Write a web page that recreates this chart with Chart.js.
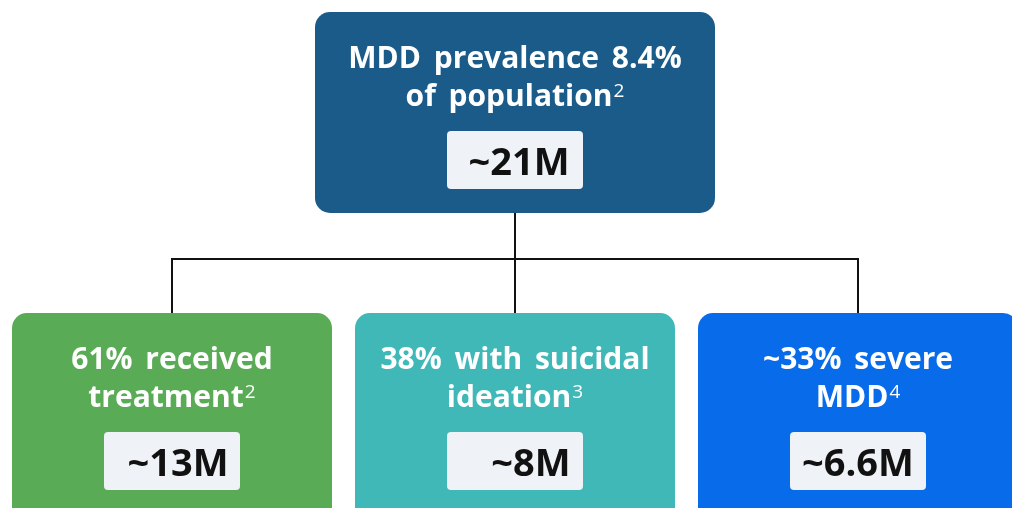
<!DOCTYPE html>
<html>
<head>
<meta charset="utf-8">
<script src="https://cdn.jsdelivr.net/npm/chart.js@4/dist/chart.umd.min.js"></script>
<style>
  html, body { margin: 0; padding: 0; background: #fff; }
  #wrap { width: 1012px; height: 508px; }
</style>
</head>
<body>
<div id="wrap"><canvas id="tree" width="1012" height="508"></canvas></div>
<script>
// --- data ---
const nodeTitles = [
    ['MDD prevalence 8.4%', 'of population'],
    ['61% received', 'treatment'],
    ['38% with suicidal', 'ideation'],
    ['~33% severe', 'MDD']
];
const nodeRefs = ['2', '2', '3', '4'];
const nodeValues = ['~21M', '~13M', '~8M', '~6.6M'];
const nodeParents = [null, 0, 0, 0];

// --- styles / layout (in scale units, 1 unit = 1px) ---
const nodeColors = ['#1a5b8a', '#5aab56', '#3fb8b7', '#086bea'];
const LAYOUT = {
    boxes: [
        { cx: 515, top: 12, w: 400, h: 201 },
        { cx: 172, top: 313, w: 320, h: 230 },
        { cx: 515, top: 313, w: 320, h: 230 },
        { cx: 858, top: 313, w: 320, h: 230 }
    ],
    valueShift: [4, 6, 16, 0],
    busY: 259,
    radius: 15
};
const FONT = '"Open Sans", "Noto Sans", sans-serif';

function roundRect(ctx, x, y, w, h, r) {
    ctx.beginPath();
    ctx.moveTo(x + r, y);
    ctx.arcTo(x + w, y, x + w, y + h, r);
    ctx.arcTo(x + w, y + h, x, y + h, r);
    ctx.arcTo(x, y + h, x, y, r);
    ctx.arcTo(x, y, x + w, y, r);
    ctx.closePath();
}

function setTitleFont(ctx) {
    ctx.font = `700 30px ${FONT}`;
    ctx.wordSpacing = '5px';
}
function setRefFont(ctx) {
    ctx.font = `400 19px ${FONT}`;
    ctx.wordSpacing = '0px';
}

const treePlugin = {
    id: 'treePlugin',
    afterDraw(chart) {
        const { ctx, scales: { x, y } } = chart;
        const px = v => x.getPixelForValue(v);
        const py = v => y.getPixelForValue(v);
        ctx.save();

        // connectors
        ctx.strokeStyle = '#111';
        ctx.lineWidth = 2;
        nodeParents.forEach((p, i) => {
            if (p === null) return;
            const pb = LAYOUT.boxes[p], cb = LAYOUT.boxes[i];
            ctx.beginPath();
            ctx.moveTo(px(pb.cx), py(pb.top + pb.h));
            ctx.lineTo(px(pb.cx), py(LAYOUT.busY));
            ctx.lineTo(px(cb.cx), py(LAYOUT.busY));
            ctx.lineTo(px(cb.cx), py(cb.top));
            ctx.stroke();
        });

        // boxes
        nodeTitles.forEach((lines, i) => {
            const b = LAYOUT.boxes[i];
            const left = px(b.cx - b.w / 2), top = py(b.top);
            const w = px(b.cx + b.w / 2) - left, h = py(b.top + b.h) - top;
            ctx.fillStyle = nodeColors[i];
            roundRect(ctx, left, top, w, h, LAYOUT.radius);
            ctx.fill();

            // title lines, superscript ref on the last one
            ctx.fillStyle = '#fff';
            ctx.textBaseline = 'alphabetic';
            ctx.textAlign = 'left';
            lines.forEach((line, li) => {
                const baseY = py(b.top + 56 + li * 38);
                const last = li === lines.length - 1;
                setTitleFont(ctx);
                const tw = ctx.measureText(line).width;
                let sw = 0;
                if (last) {
                    setRefFont(ctx);
                    sw = ctx.measureText(nodeRefs[i]).width + 1;
                }
                const sx = px(b.cx) - (tw + sw) / 2;
                setTitleFont(ctx);
                ctx.fillText(line, sx, baseY);
                if (last) {
                    setRefFont(ctx);
                    ctx.fillText(nodeRefs[i], sx + tw + 1, baseY - 9);
                }
            });

            // value badge
            const bw = 136, bh = 58;
            const bx = px(b.cx) - bw / 2, by = py(b.top + 119);
            ctx.fillStyle = '#eff2f6';
            roundRect(ctx, bx, by, bw, bh, 4);
            ctx.fill();
            ctx.fillStyle = '#111';
            ctx.font = `700 38px ${FONT}`;
            ctx.wordSpacing = '0px';
            ctx.textAlign = 'center';
            ctx.fillText(nodeValues[i], px(b.cx + LAYOUT.valueShift[i]), by + 44);
        });
        ctx.restore();
    }
};

new Chart(document.getElementById('tree'), {
    type: 'scatter',
    data: { datasets: [{ data: [] }] },
    options: {
        responsive: false,
        animation: false,
        layout: { padding: 0 },
        plugins: { legend: { display: false }, tooltip: { enabled: false } },
        scales: {
            x: { type: 'linear', min: 0, max: 1012, display: false },
            y: { type: 'linear', min: 0, max: 508, reverse: true, display: false }
        }
    },
    plugins: [treePlugin]
});
</script>
</body>
</html>
